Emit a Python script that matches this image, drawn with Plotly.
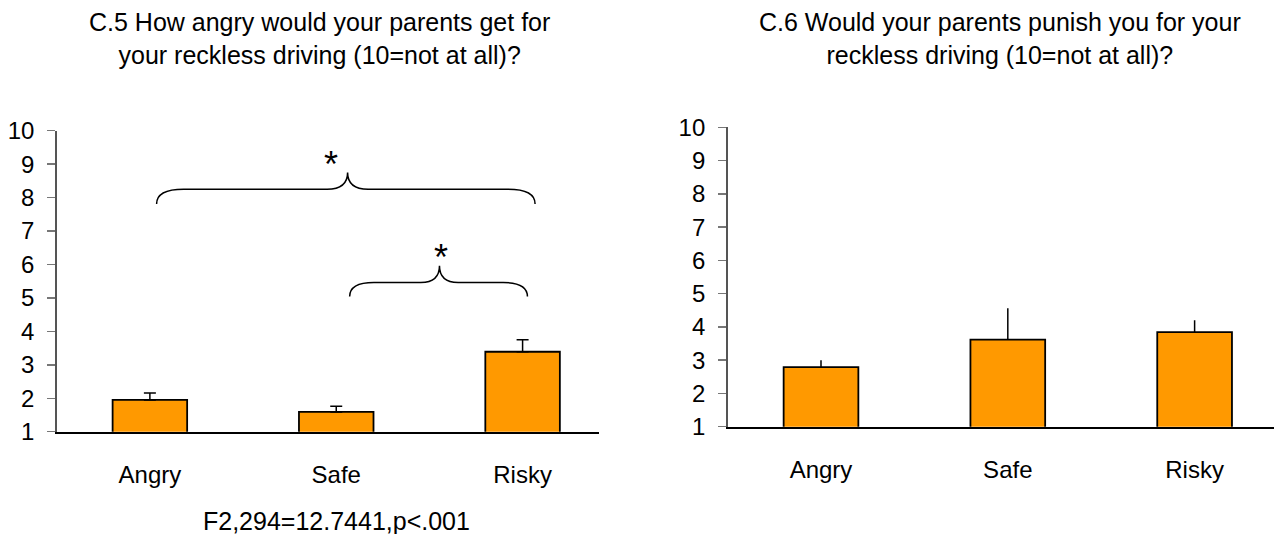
import plotly.graph_objects as go

categories = ["Angry", "Safe", "Risky"]
angry_means = [1.95, 1.59, 3.39]
angry_err = [0.21, 0.17, 0.36]
punish_means = [2.79, 3.62, 3.84]
punish_err = [0.21, 0.94, 0.36]
y_ticks = list(range(1, 11))
title_left = "C.5 How angry would your parents get for<br>your reckless driving (10=not at all)?"
title_right = "C.6 Would your parents punish you for your<br>reckless driving (10=not at all)?"
stat_text = "F2,294=12.7441,p<.001"

W, H = 1282, 534
FONT = "Arial, Liberation Sans, sans-serif"
ORANGE = "#FF9900"

def px(v):
    return v / W

def py(v):
    return 1 - v / H

fig = go.Figure()
xs = list(range(len(categories)))
fig.add_trace(go.Bar(
    x=xs, y=angry_means, xaxis="x", yaxis="y", width=0.4,
    marker=dict(color=ORANGE, line=dict(color="black", width=1.8)),
    error_y=dict(type="data", symmetric=False, array=angry_err,
                 arrayminus=[0] * 3, color="black", thickness=1.5, width=6),
    showlegend=False, hoverinfo="skip"))
fig.add_trace(go.Bar(
    x=xs, y=punish_means, xaxis="x2", yaxis="y2", width=0.4,
    marker=dict(color=ORANGE, line=dict(color="black", width=1.8)),
    error_y=dict(type="data", symmetric=False, array=punish_err,
                 arrayminus=[0] * 3, color="black", thickness=1.5, width=0),
    showlegend=False, hoverinfo="skip"))

xcommon = dict(tickmode="array", tickvals=xs, ticktext=categories,
               showline=True, linecolor="black", linewidth=2, ticks="",
               showgrid=False, zeroline=False, automargin=False,
               tickfont=dict(family=FONT, size=24, color="black"),
               ticklabelstandoff=20)
ycommon = dict(range=[1, 10], tickmode="array", tickvals=y_ticks,
               showline=True, linecolor="#555555", linewidth=1.5,
               ticks="outside", ticklen=8, tickcolor="#777777", tickwidth=1.5,
               showgrid=False, zeroline=False, automargin=False,
               tickfont=dict(family=FONT, size=24, color="black"),
               ticklabelstandoff=8)

fig.update_layout(
    template="none",
    width=W, height=H, margin=dict(l=0, r=0, t=0, b=0, pad=0),
    paper_bgcolor="white", plot_bgcolor="white", bargap=0,
    xaxis=dict(domain=[px(56.7), px(599)], range=[-0.5, 2.41], anchor="y", **xcommon),
    yaxis=dict(domain=[py(431.7), py(130.7)], anchor="x", **ycommon),
    xaxis2=dict(domain=[px(727.6), px(1274)], range=[-0.5, 2.425], anchor="y2", **xcommon),
    yaxis2=dict(domain=[py(426.7), py(127.3)], anchor="x2", **ycommon),
)

annos = [
    dict(text=title_left, x=px(319), y=py(39), xref="paper", yref="paper",
         showarrow=False, font=dict(family=FONT, size=25, color="black"),
         xanchor="center", yanchor="middle"),
    dict(text=title_right, x=px(1000), y=py(39), xref="paper", yref="paper",
         showarrow=False, font=dict(family=FONT, size=25, color="black"),
         xanchor="center", yanchor="middle"),
    dict(text=stat_text, x=px(336), y=py(521), xref="paper", yref="paper",
         showarrow=False, font=dict(family=FONT, size=25, color="black"),
         xanchor="center", yanchor="middle"),
    dict(text="*", x=0.97, y=9.0, xref="x", yref="y", showarrow=False,
         font=dict(family=FONT, size=36, color="black")),
    dict(text="*", x=1.563, y=6.2, xref="x", yref="y", showarrow=False,
         font=dict(family=FONT, size=36, color="black")),
]
fig.update_layout(annotations=annos)

def brace(x0, x1, xp, ye, yh, yp, a, b):
    return (f"M {x0},{ye} Q {x0},{yh} {x0 + a},{yh} L {xp - b},{yh} "
            f"Q {xp},{yh} {xp},{yp} Q {xp},{yh} {xp + b},{yh} "
            f"L {x1 - a},{yh} Q {x1},{yh} {x1},{ye}")

shapes = [
    dict(type="path", xref="x", yref="y",
         path=brace(0.036, 2.067, 1.061, 7.81, 8.25, 8.75, 0.145, 0.11),
         line=dict(color="black", width=1.5)),
    dict(type="path", xref="x", yref="y",
         path=brace(1.072, 2.026, 1.554, 5.04, 5.46, 5.96, 0.13, 0.1),
         line=dict(color="black", width=1.5)),
]
fig.update_layout(shapes=shapes)

fig.write_html("out.html", config={"displayModeBar": False, "staticPlot": True},
               post_script="document.body.style.margin='0';document.body.style.padding='0';")
